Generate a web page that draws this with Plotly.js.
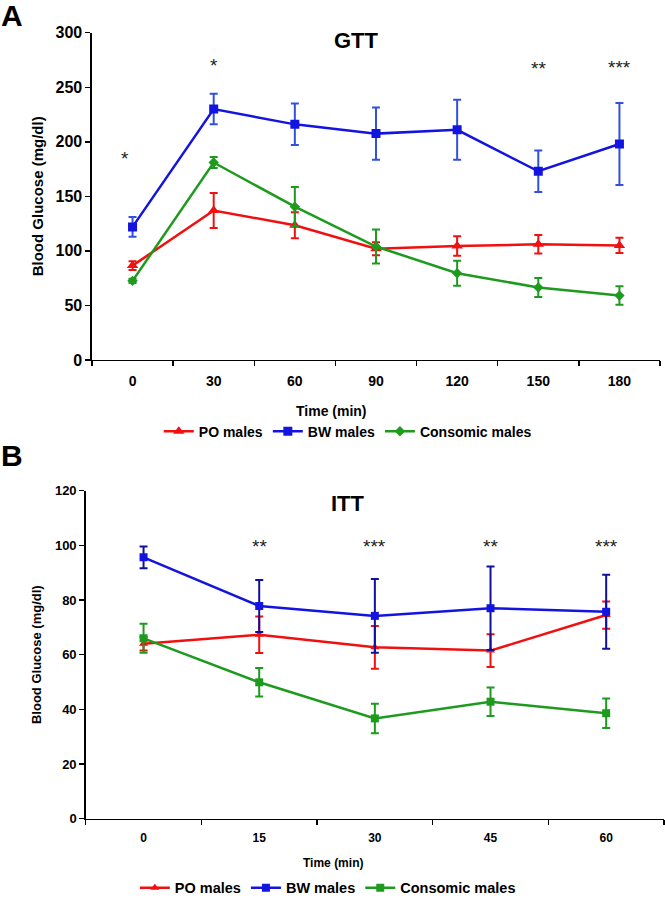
<!DOCTYPE html>
<html>
<head>
<meta charset="utf-8">
<script src="https://cdn.plot.ly/plotly-3.0.1.min.js"></script>
<style>html,body{margin:0;padding:0;background:#fff;overflow:hidden;}#chart{width:665px;height:899px;}</style>
</head>
<body>
<div id="chart"></div>
<script>
// ---- GTT (panel A) ----
const gttTimes = ["0", "30", "60", "90", "120", "150", "180"];
const gttPO = [86.5, 137, 123.5, 102, 104.5, 106, 105];
const gttPOerr = [4, 16, 12, 6, 9, 8.5, 7];
const gttBW = [122, 230, 216, 207.5, 211, 173, 198];
const gttBWerr = [9, 14, 19, 24, 27.5, 19, 37.5];
const gttCons = [72.5, 181, 140.5, 104, 79.5, 66.5, 59];
const gttConsErr = [2, 5, 18, 15.5, 11.5, 8.7, 8.5];
const gttStars = ["*", "*", "", "", "", "**", "***"];
const gttStarY = [185, 270, null, null, null, 267, 268];

// ---- ITT (panel B) ----
const ittTimes = ["0", "15", "30", "45", "60"];
const ittPO = [64, 67.3, 62.7, 61.5, 74.5];
const ittPOerr = [2.5, 6.7, 7.8, 6, 5];
const ittBW = [95.6, 77.8, 74.2, 77, 75.7];
const ittBWerr = [4, 9.5, 13.5, 15.3, 13.5];
const ittCons = [66, 49.9, 36.7, 42.8, 38.6];
const ittConsErr = [5.3, 5.2, 5.4, 5.2, 5.4];
const ittStars = ["", "**", "***", "**", "***"];
const ittStarY = [null, 99.5, 99.5, 99.5, 99.5];

const seriesNames = ["PO males", "BW males", "Consomic males"];
const RED = "#f01010", BLUE = "#1414e0", GREEN = "#1e9a1e";
const FONT = "Liberation Sans, Arial, sans-serif";

function tr(x, y, err, name, color, errColor, symbol, size, xa, ya, legend) {
  return {
    x: x, y: y, type: "scatter", mode: "lines+markers", name: name,
    xaxis: xa, yaxis: ya, legend: legend, showlegend: true,
    line: {color: color, width: 2.5},
    marker: {color: color, symbol: symbol, size: size},
    error_y: {type: "data", array: err, visible: true, color: errColor, thickness: 2, width: 4}
  };
}

const data = [
  tr(gttTimes, gttPO, gttPOerr, seriesNames[0], RED, RED, "triangle-up", 10, "x", "y", "legend"),
  tr(gttTimes, gttBW, gttBWerr, seriesNames[1], BLUE, "#3050e0", "square", 9, "x", "y", "legend"),
  tr(gttTimes, gttCons, gttConsErr, seriesNames[2], GREEN, GREEN, "diamond", 8, "x", "y", "legend"),
  tr(ittTimes, ittPO, ittPOerr, seriesNames[0], RED, RED, "triangle-up", 8, "x2", "y2", "legend2"),
  tr(ittTimes, ittBW, ittBWerr, seriesNames[1], BLUE, "#10109a", "square", 8, "x2", "y2", "legend2"),
  tr(ittTimes, ittCons, ittConsErr, seriesNames[2], GREEN, GREEN, "square", 8, "x2", "y2", "legend2")
];

const annotations = [];
gttTimes.forEach((t, i) => {
  if (gttStars[i]) annotations.push({x: i, y: gttStarY[i], xref: "x", yref: "y", text: gttStars[i],
    showarrow: false, xshift: i === 0 ? -8 : 0, font: {family: FONT, size: 19, color: "#222"}});
});
ittTimes.forEach((t, i) => {
  if (ittStars[i]) annotations.push({x: i, y: ittStarY[i], xref: "x2", yref: "y2", text: ittStars[i],
    showarrow: false, font: {family: FONT, size: 19, color: "#222"}});
});
const bold = (s) => ({family: FONT, size: s, color: "#000", weight: "bold"});
annotations.push(
  {x: 0.5364, y: 0.9547, xref: "paper", yref: "paper", text: "GTT", showarrow: false, xanchor: "center", yanchor: "middle", font: bold(22)},
  {x: 0.5238, y: 0.4402, xref: "paper", yref: "paper", text: "ITT", showarrow: false, xanchor: "center", yanchor: "middle", font: bold(22)},
  {x: 0.4992, y: 0.5432, xref: "paper", yref: "paper", text: "Time (min)", showarrow: false, xanchor: "center", yanchor: "middle", font: bold(14)},
  {x: 0.5008, y: 0.0404, xref: "paper", yref: "paper", text: "Time (min)", showarrow: false, xanchor: "center", yanchor: "middle", font: bold(12)},
  {x: 0.018, y: 0.983, xref: "paper", yref: "paper", text: "A", showarrow: false, xanchor: "center", yanchor: "middle", font: bold(30)},
  {x: 0.018, y: 0.4928, xref: "paper", yref: "paper", text: "B", showarrow: false, xanchor: "center", yanchor: "middle", font: bold(30)}
);

const axCommon = {showgrid: false, zeroline: false, showline: true, linecolor: "#000", linewidth: 1.5,
  ticks: "outside", ticklen: 5, tickwidth: 1.5, tickcolor: "#000", fixedrange: true, automargin: false};

const layout = {
  width: 665, height: 899,
  margin: {l: 0, r: 0, t: 0, b: 0, autoexpand: false},
  paper_bgcolor: "#fff", plot_bgcolor: "#fff",
  font: {family: FONT, color: "#000"},
  xaxis: Object.assign({}, axCommon, {domain: [0.1383, 0.9925], anchor: "y", type: "category",
    tickson: "boundaries", range: [-0.5, 6.5], tickfont: bold(14), ticklabelstandoff: 8}),
  yaxis: Object.assign({}, axCommon, {domain: [0.5996, 0.9636], anchor: "x", range: [0, 300], dtick: 50,
    tickfont: bold(16), title: {text: "Blood Glucose (mg/dl)", font: bold(15), standoff: 8}}),
  xaxis2: Object.assign({}, axCommon, {domain: [0.1289, 0.9985], anchor: "y2", type: "category",
    tickson: "boundaries", range: [-0.5, 4.5], tickfont: bold(12), ticklabelstandoff: 7}),
  yaxis2: Object.assign({}, axCommon, {domain: [0.0893, 0.4542], anchor: "x2", range: [0, 120], dtick: 20,
    tickfont: bold(13), title: {text: "Blood Glucose (mg/dl)", font: bold(13), standoff: 10}}),
  legend: {orientation: "h", x: 0.523, y: 0.5198, xanchor: "center", yanchor: "middle",
    font: bold(14), itemwidth: 30, bgcolor: "rgba(0,0,0,0)", tracegroupgap: 0},
  legend2: {orientation: "h", x: 0.493, y: 0.0125, xanchor: "center", yanchor: "middle",
    font: bold(14.5), itemwidth: 30, bgcolor: "rgba(0,0,0,0)", tracegroupgap: 0},
  annotations: annotations
};

Plotly.newPlot("chart", data, layout, {displayModeBar: false, staticPlot: true});
</script>
</body>
</html>
